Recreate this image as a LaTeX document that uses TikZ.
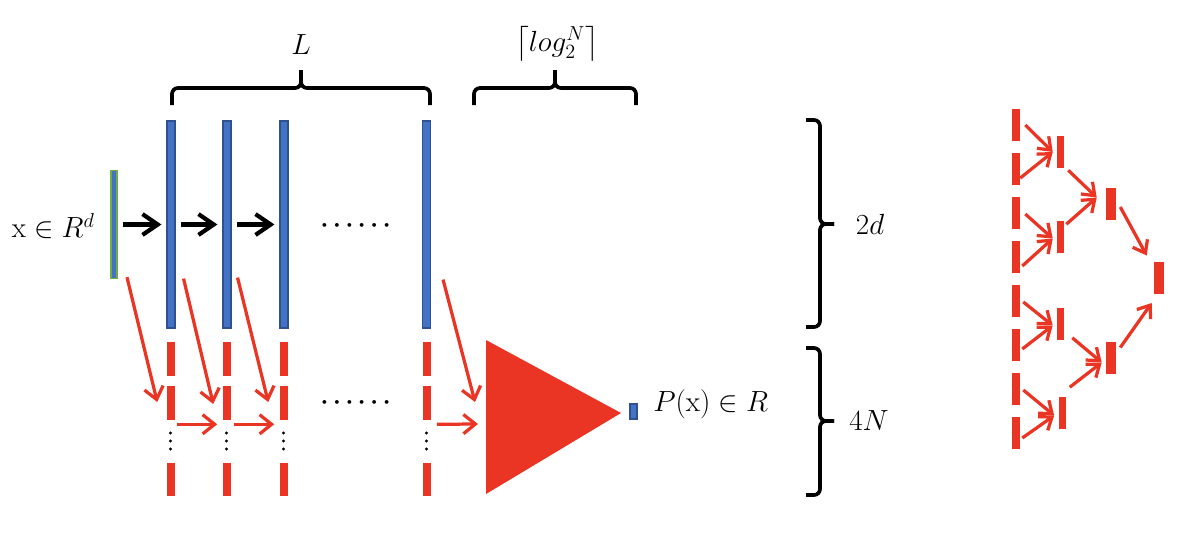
\documentclass[tikz,border=0pt]{standalone}
\usepackage{amsmath}
\usetikzlibrary{arrows.meta,positioning,calc}
\definecolor{BarBlue}{HTML}{4472C4}
\definecolor{BarEdge}{HTML}{2F528F}
\definecolor{InGreen}{HTML}{70AD47}
\definecolor{NetRed} {HTML}{EA3424}
\tikzset{
  lbar/.style={rectangle,draw=BarEdge,fill=BarBlue,line width=0.8pt,inner sep=0pt,
               minimum width=0.2cm,minimum height=5.175cm},
  rseg/.style={rectangle,fill=NetRed,inner sep=0pt,minimum width=0.2cm,minimum height=0.85cm},
  tseg/.style={rectangle,fill=NetRed,inner sep=0pt,minimum width=#1,minimum height=0.8cm},
  lbl/.style={font=\fontsize{20}{24}\selectfont,inner sep=0pt},
  dotrow/.style={font=\fontsize{17}{20}\selectfont\boldmath,inner sep=0pt},
  karr/.style={-{Straight Barb[length=0.38cm,width=0.52cm]},line width=3pt},
  rarr/.style={-{Straight Barb[length=0.3cm,width=0.48cm]},line width=2.3pt,color=NetRed},
  tarr/.style={-{Straight Barb[length=0.28cm,width=0.42cm]},line width=2.3pt,color=NetRed},
  brc/.style={line width=2.6pt,rounded corners=0.15cm},
}

\begin{document}
\begin{tikzpicture}[x=0.025cm,y=-0.025cm]
  \useasboundingbox (0,0) rectangle (1186,534);

  \node[rectangle,draw=InGreen,fill=BarBlue,line width=1pt,inner sep=0pt,
        minimum width=0.15cm,minimum height=2.7cm] (xin) at (114,224.5) {};
  \node[lbl,anchor=east] (xlab) at (95,226) {$\mathrm{x}\in R^{d}$};

  \node[lbar] (bara) at (171,224.5) {};
  \node[lbar] (barb) at (227,224.5) {};
  \node[lbar] (barc) at (284,224.5) {};
  \node[lbar] (bard) at (426.5,224.5) {};
  \node[dotrow] (dotsup) at (358,226) {$\cdots\cdots$};

  \draw[karr,shorten <=0.125cm,shorten >=0.125cm] (xin) -- (bara);
  \draw[karr,shorten <=0.125cm,shorten >=0.125cm] (bara) -- (barb);
  \draw[karr,shorten <=0.125cm,shorten >=0.125cm] (barb) -- (barc);

  \node[rseg] (s1a) at (170.5,359) {};
  \node[rseg] (s2a) at (170.5,403) {};
  \node[rseg,minimum height=0.825cm] (s3a) at (170.5,479.5) {};
  \node[rseg] (s1b) at (226.5,359) {};
  \node[rseg] (s2b) at (226.5,403) {};
  \node[rseg,minimum height=0.825cm] (s3b) at (226.5,479.5) {};
  \node[rseg] (s1c) at (283.5,359) {};
  \node[rseg] (s2c) at (283.5,403) {};
  \node[rseg,minimum height=0.825cm] (s3c) at (283.5,479.5) {};
  \node[rseg] (s1d) at (426.5,359) {};
  \node[rseg] (s2d) at (426.5,403) {};
  \node[rseg,minimum height=0.825cm] (s3d) at (426.5,479.5) {};
  \foreach \cx in {170.5,226.5,283.5,426.5}
    \foreach \cy in {433,441,449}
      \fill (\cx,\cy) circle (0.04cm);
  \node[dotrow] (dotslo) at (358,403) {$\cdots\cdots$};

  \fill[NetRed] (486,340) coordinate (tria) -- (621,413) coordinate (trip)
                -- (486,494) coordinate (trib) -- cycle;
  \coordinate (trim) at (486,417);
  \node[rectangle,draw=BarEdge,fill=BarBlue,line width=0.8pt,inner sep=0pt,
        minimum width=0.175cm,minimum height=0.375cm] (pout) at (633.5,411.5) {};
  \node[lbl,anchor=west] (plab) at (653,404) {$P(\mathrm{x})\in R$};

  \draw[rarr] ([shift={(13,-2)}]xin.south) -- ([shift={(-9,-1)}]s2a.west);
  \draw[rarr] ([shift={(8,-50)}]bara.south east) -- ([shift={(-9,1)}]s2b.west);
  \draw[rarr] ([shift={(6,-51)}]barb.south east) -- ([shift={(-11,-1)}]s2c.west);
  \draw[rarr] ([shift={(12,-49)}]bard.south east) -- ([shift={(-11,-15)}]trim);
  \draw[rarr] ([shift={(2,4)}]s2a.south east) -- ([shift={(-5,4)}]s2b.south west);
  \draw[rarr] ([shift={(3,4)}]s2b.south east) -- ([shift={(-5,4)}]s2c.south west);
  \draw[rarr] ([shift={(6,4)}]s2d.south east) -- ([shift={(-8,7)}]trim);

  \draw[brc] (172,105) |- (301,88) -- (301,70);
  \draw[brc] (301,70) -- (301,88) -| (430,105);
  \node[lbl] (llab) at (301,45) {$L$};
  \draw[brc] (474,105) |- (555,88) -- (555,70);
  \draw[brc] (555,70) -- (555,88) -| (636,105);
  \node[lbl] (loglab) at (557,44) {$\left\lceil log_2^N \right\rceil$};

  \draw[brc] (806,120) -| (820,224) -- (834,224);
  \draw[brc] (834,224) -- (820,224) |- (806,327);
  \node[lbl] (dlab) at (870,224) {$2d$};
  \draw[brc] (806,348) -| (820,421) -- (834,421);
  \draw[brc] (834,421) -- (820,421) |- (806,495);
  \node[lbl] (nlab) at (869,421) {$4N$};

  \node[tseg=0.2cm] (l1) at (1016,125) {};
  \node[tseg=0.2cm] (l2) at (1016,169) {};
  \node[tseg=0.2cm] (l3) at (1016,213) {};
  \node[tseg=0.2cm] (l4) at (1016,257) {};
  \node[tseg=0.2cm] (l5) at (1016,301) {};
  \node[tseg=0.2cm] (l6) at (1016,345) {};
  \node[tseg=0.2cm] (l7) at (1016,389) {};
  \node[tseg=0.2cm] (l8) at (1016,433) {};
  \node[tseg=0.175cm] (m1) at (1060.5,152) {};
  \node[tseg=0.175cm] (m2) at (1060.5,236.5) {};
  \node[tseg=0.175cm] (m3) at (1060.5,323.5) {};
  \node[tseg=0.175cm] (m4) at (1062,412.5) {};
  \node[tseg=0.25cm] (n1) at (1111,203.5) {};
  \node[tseg=0.25cm] (n2) at (1111,357.5) {};
  \node[tseg=0.25cm] (o1) at (1159,277.5) {};

  \draw[tarr] ([shift={(5,0)}]l1.east) -- ([shift={(-4,0)}]m1.west);
  \draw[tarr] ([shift={(0,9)}]l2.east) -- ([shift={(-4,0)}]m1.west);
  \draw[tarr] ([shift={(5,1)}]l3.east) -- ([shift={(-4,2)}]m2.west);
  \draw[tarr] ([shift={(2,9)}]l4.east) -- ([shift={(-4,2)}]m2.west);
  \draw[tarr] ([shift={(3,1)}]l5.east) -- ([shift={(-4,2)}]m3.west);
  \draw[tarr] ([shift={(2,4)}]l6.east) -- ([shift={(-4,2)}]m3.west);
  \draw[tarr] ([shift={(3,1)}]l7.east) -- ([shift={(-4,3)}]m4.west);
  \draw[tarr] ([shift={(2,5)}]l8.east) -- ([shift={(-4,3)}]m4.west);
  \draw[tarr] ([shift={(4,2)}]m1.south east) -- ([shift={(-9,-6)}]n1.west);
  \draw[tarr] ([shift={(2,4)}]m2.north east) -- ([shift={(-9,-6)}]n1.west);
  \draw[tarr] ([shift={(8,-2)}]m3.south east) -- ([shift={(-4,5)}]n2.west);
  \draw[tarr] ([shift={(4,-9)}]m4.north east) -- ([shift={(-4,5)}]n2.west);
  \draw[tarr] ([shift={(4,3.5)}]n1.east) -- ([shift={(-7,-22)}]o1.west);
  \draw[tarr] ([shift={(4,-10)}]n2.east) -- ([shift={(-2,25.5)}]o1.west);

\end{tikzpicture}
\end{document}
